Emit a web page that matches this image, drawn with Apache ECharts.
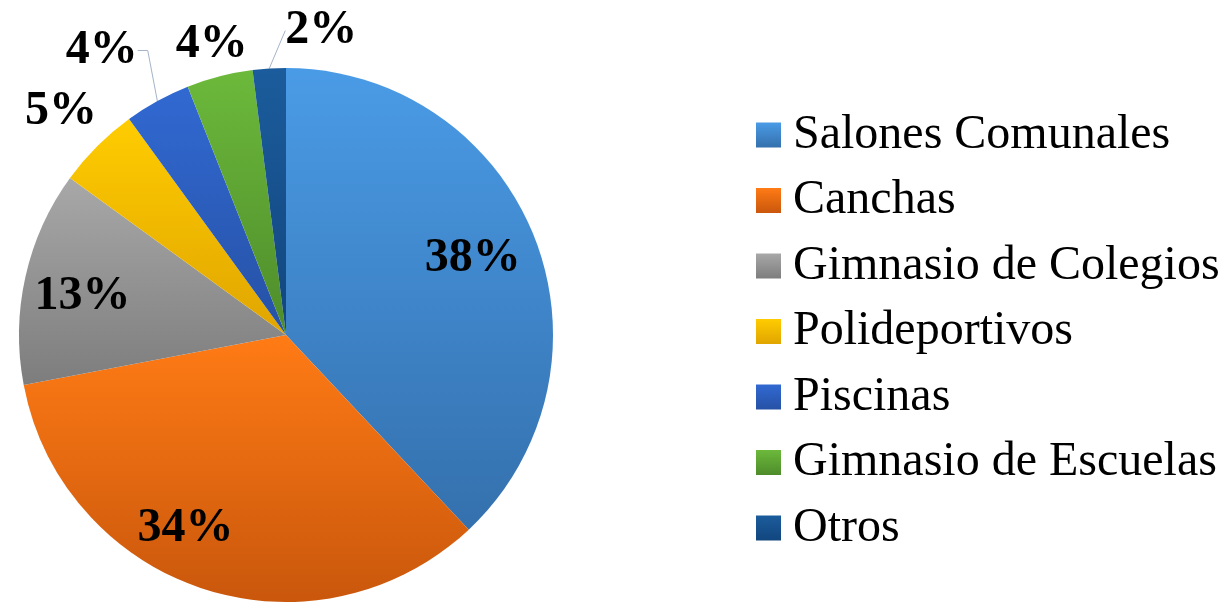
<!DOCTYPE html>
<html>
<head>
<meta charset="utf-8">
<script src="https://cdn.jsdelivr.net/npm/echarts@6/dist/echarts.min.js"></script>
<style>
    html, body {margin: 0; padding: 0; background: #fff;}
    #main {width: 1227px; height: 604px;}
</style>
</head>
<body>
<div id="main"></div>
<script>
// datos del grafico
var categories = ['Salones Comunales', 'Canchas', 'Gimnasio de Colegios', 'Polideportivos', 'Piscinas', 'Gimnasio de Escuelas', 'Otros'];
var values = [38, 34, 13, 5, 4, 4, 2];

// colores (degradado de arriba a abajo)
var topColors = ['#4a9be6', '#ff7b15', '#a8a8a8', '#ffcc00', '#3169d2', '#6cb93b', '#1b5c9c'];
var bottomColors = ['#3470ad', '#c9570c', '#7d7d7d', '#e0a500', '#2651a5', '#4e8c2b', '#12467e'];

var cx = 286, cy = 335, r = 267;
var labelFont = {fontFamily: 'Liberation Serif', fontWeight: 'bold', fontSize: 48, color: '#000'};

// etiquetas dentro (3 grandes) y fuera (pequeñas)
var insideNudge = [{dx: -7, dy: 0}, {dx: -36, dy: -5}, {dx: 0, dy: 7}];
var outsideNudge = [null, null, null, {dx: 26, dy: -13}, {dx: 5, dy: -33}, {dx: 38, dy: -12}, {dx: 94, dy: -23}];
var lineLen = [0, 0, 0, 30, 20, 20, 15];
var lineLen2 = [0, 0, 0, 0, 10, 0, 0];
var showLine = [false, false, false, false, true, false, true];

function grad(i) {
    return new echarts.graphic.LinearGradient(0, 0, 0, 1, [
        {offset: 0, color: topColors[i]},
        {offset: 1, color: bottomColors[i]}
    ]);
}

var mainData = categories.map(function (name, i) {
    var big = i < 3;
    return {
        name: name,
        value: values[i],
        itemStyle: {color: grad(i)},
        label: {show: !big},
        labelLine: {show: showLine[i], length: lineLen[i], length2: lineLen2[i]}
    };
});

var labelData = categories.map(function (name, i) {
    return {
        name: name,
        value: values[i],
        label: {show: i < 3}
    };
});

var myChart = echarts.init(document.getElementById('main'));
var option = {
    animation: false,
    backgroundColor: '#fff',
    legend: {
        data: categories,
        orient: 'vertical',
        left: 756,
        top: 111,
        padding: 0,
        itemWidth: 25,
        itemHeight: 25,
        itemGap: 17.5,
        icon: 'rect',
        selectedMode: false,
        textStyle: {
            fontFamily: 'Liberation Serif',
            fontSize: 48,
            lineHeight: 48,
            color: '#000',
            padding: [0, 0, 0, 7]
        }
    },
    series: [
        {
            type: 'pie',
            center: [cx, cy],
            radius: r,
            startAngle: 90,
            clockwise: true,
            avoidLabelOverlap: false,
            silent: true,
            itemStyle: {borderWidth: 0},
            label: Object.assign({position: 'outside', formatter: '{c}%', distanceToLabelLine: 5}, labelFont),
            labelLine: {lineStyle: {color: '#a5b4c8', width: 1}, smooth: false, minTurnAngle: 0},
            labelLayout: function (p) {
                var n = outsideNudge[p.dataIndex];
                if (!n) return {};
                // mover la etiqueta y dejar que la guia se recalcule
                return {
                    x: p.labelRect.x + n.dx,
                    y: p.labelRect.y + n.dy,
                    align: 'left',
                    verticalAlign: 'top'
                };
            },
            data: mainData
        },
        {
            // anillo transparente solo para ubicar las etiquetas internas
            type: 'pie',
            center: [cx, cy],
            radius: [Math.round(r * 0.54), r],
            startAngle: 90,
            clockwise: true,
            silent: true,
            z: 3,
            itemStyle: {color: 'rgba(0,0,0,0)'},
            label: Object.assign({position: 'inside', formatter: '{c}%'}, labelFont),
            labelLine: {show: false},
            labelLayout: function (p) {
                return insideNudge[p.dataIndex] || {};
            },
            data: labelData
        }
    ]
};
myChart.setOption(option);
</script>
</body>
</html>
